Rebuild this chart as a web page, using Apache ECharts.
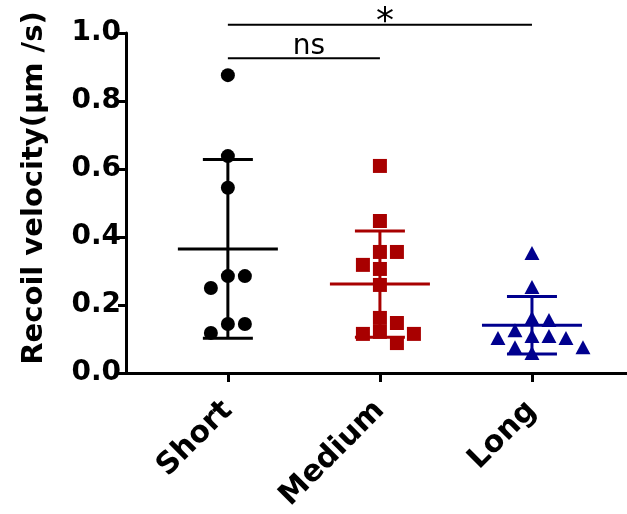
<!DOCTYPE html>
<html>
<head>
<meta charset="utf-8">
<script src="https://cdn.jsdelivr.net/npm/echarts@6/dist/echarts.min.js"></script>
<style>
  html, body { margin: 0; padding: 0; background: #fff; }
  #main { width: 627px; height: 514px; }
</style>
</head>
<body>
<div id="main"></div>
<script>
var categories = ['Short', 'Medium', 'Long'];
var shortValues = [0.876, 0.638, 0.545, 0.285, 0.285, 0.25, 0.144, 0.144, 0.118];
var mediumValues = [0.609, 0.447, 0.356, 0.356, 0.318, 0.306, 0.259, 0.162, 0.147, 0.121, 0.115, 0.115, 0.088];
var longValues = [0.353, 0.253, 0.162, 0.156, 0.126, 0.109, 0.109, 0.103, 0.103, 0.076, 0.076, 0.059];
var yTicks = [0, 0.2, 0.4, 0.6, 0.8, 1.0];
// significance brackets: from group, to group, height, label
var bracketFrom = [0, 0];
var bracketTo = [1, 2];
var bracketLevel = [0.926, 1.024];
var bracketText = ['ns', '*'];

var groups = [shortValues, mediumValues, longValues];
var colors = ['#000000', '#a80000', '#00008e'];
var symbols = ['circle', 'rect', 'triangle'];

function mean(a) {
  var s = 0;
  a.forEach(function (v) { s += v; });
  return s / a.length;
}
function sd(a) {
  var m = mean(a), s = 0;
  a.forEach(function (v) { s += (v - m) * (v - m); });
  return Math.sqrt(s / (a.length - 1));
}

// spread points sideways (pixels) so symbols don't overlap, y stays the value
function swarm(values, pxPerUnit, w, h) {
  var order = values.map(function (v, i) { return i; });
  order.sort(function (a, b) { return values[b] - values[a]; });
  var placed = [];
  var offsets = [];
  var side = 1;
  order.forEach(function (i) {
    var y = values[i] * pxPerUnit;
    var best = null;
    for (var k = 0; k < 300 && best === null; k++) {
      var cands = k === 0 ? [0] : [side * k, -side * k];
      for (var c = 0; c < cands.length; c++) {
        var ok = placed.every(function (p) {
          return Math.abs(p.x - cands[c]) >= w || Math.abs(p.y - y) >= h;
        });
        if (ok) { best = cands[c]; break; }
      }
    }
    if (best !== 0) side = best > 0 ? -1 : 1;
    placed.push({ x: best, y: y });
    offsets[i] = best;
  });
  return offsets;
}

var chart = echarts.init(document.getElementById('main'));

function buildOption(pxPerUnit) {
  var series = [];
  groups.forEach(function (vals, g) {
    var offs = pxPerUnit ? swarm(vals, pxPerUnit, 17, 13) : vals.map(function () { return 0; });
    series.push({
      type: 'scatter',
      symbol: symbols[g],
      symbolSize: g === 2 ? [15, 14] : 14,
      itemStyle: { color: colors[g], opacity: 1 },
      data: vals.map(function (v, i) {
        return { value: [g, v], symbolOffset: [offs[i], 0] };
      }),
      z: 2
    });
  });

  series.push({
    type: 'custom',
    z: 3,
    data: groups.map(function (vals, g) { return [g, mean(vals), sd(vals)]; }),
    renderItem: function (params, api) {
      var g = api.value(0), m = api.value(1), s = api.value(2);
      var c = api.coord([g, m]);
      var t = api.coord([g, m + s]);
      var b = api.coord([g, m - s]);
      var st = { stroke: colors[g], lineWidth: 3 };
      return {
        type: 'group',
        children: [
          { type: 'line', shape: { x1: c[0], y1: t[1], x2: c[0], y2: b[1] }, style: st },
          { type: 'line', shape: { x1: c[0] - 25, y1: t[1], x2: c[0] + 25, y2: t[1] }, style: st },
          { type: 'line', shape: { x1: c[0] - 25, y1: b[1], x2: c[0] + 25, y2: b[1] }, style: st },
          { type: 'line', shape: { x1: c[0] - 50, y1: c[1], x2: c[0] + 50, y2: c[1] }, style: st }
        ]
      };
    }
  });

  series.push({
    type: 'custom',
    clip: false,
    z: 4,
    data: bracketLevel.map(function (lv, i) { return [bracketFrom[i], bracketTo[i], lv]; }),
    renderItem: function (params, api) {
      var a = api.coord([api.value(0), api.value(2)]);
      var b = api.coord([api.value(1), api.value(2)]);
      var txt = bracketText[params.dataIndex];
      return {
        type: 'group',
        children: [
          { type: 'line', shape: { x1: a[0], y1: a[1], x2: b[0], y2: b[1] }, style: { stroke: '#000', lineWidth: 2 } },
          {
            type: 'text',
            style: {
              text: txt,
              x: (a[0] + b[0]) / 2 + 5,
              y: a[1] + (txt === '*' ? 16 : 3),
              align: 'center',
              verticalAlign: 'bottom',
              fill: '#000',
              fontFamily: 'DejaVu Sans',
              fontSize: txt === '*' ? 36 : 28
            }
          }
        ]
      };
    }
  });

  return {
    backgroundColor: '#fff',
    animation: false,
    grid: { left: 126, right: 0, top: 33, bottom: 141 },
    xAxis: {
      type: 'value',
      min: -0.67,
      max: 2.625,
      axisLine: { lineStyle: { color: '#000', width: 3 } },
      axisTick: { customValues: [0, 1, 2], length: 9, lineStyle: { color: '#000', width: 3 } },
      axisLabel: {
        customValues: [0, 1, 2],
        rotate: 45,
        margin: 33,
        color: '#000',
        fontFamily: 'DejaVu Sans',
        fontWeight: 'bold',
        fontSize: 30,
        formatter: function (v) { return categories[Math.round(v)]; }
      },
      splitLine: { show: false }
    },
    yAxis: {
      type: 'value',
      min: 0,
      max: 1,
      interval: 0.2,
      name: 'Recoil velocity(μm /s)',
      nameLocation: 'middle',
      nameGap: 77,
      nameTextStyle: {
        color: '#000',
        fontFamily: 'DejaVu Sans',
        fontWeight: 'bold',
        fontSize: 29,
        padding: [0, 0, 0, 30]
      },
      axisLine: { show: true, onZero: false, lineStyle: { color: '#000', width: 3 } },
      axisTick: { show: true, length: 8, lineStyle: { color: '#000', width: 3 } },
      axisLabel: {
        margin: 5,
        color: '#000',
        fontFamily: 'DejaVu Sans',
        fontWeight: 'bold',
        fontSize: 28,
        customValues: yTicks,
        formatter: function (v) { return v.toFixed(1); }
      },
      splitLine: { show: false }
    },
    series: series
  };
}

chart.setOption(buildOption(0));
var pxPerUnit = chart.convertToPixel({ yAxisIndex: 0 }, 0) - chart.convertToPixel({ yAxisIndex: 0 }, 1);
chart.setOption(buildOption(pxPerUnit));
</script>
</body>
</html>
